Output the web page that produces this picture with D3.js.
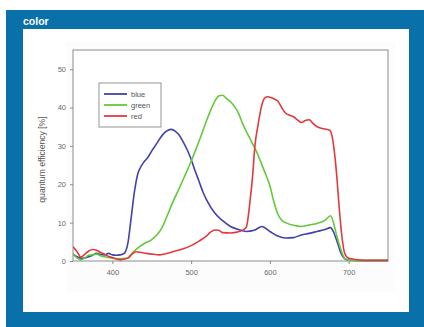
<!DOCTYPE html>
<html>
<head>
<meta charset="utf-8">
<script src="https://cdn.jsdelivr.net/npm/d3@7"></script>
<style>
html,body{margin:0;padding:0;background:#fff;}
svg{display:block;}
</style>
</head>
<body>
<svg id="chart" width="424" height="327"></svg>
<script>
const title = "color";
const yLabel = "quantum efficiency [%]";
const xTicks = [400, 500, 600, 700];
const yTicks = [0, 10, 20, 30, 40, 50];
const seriesNames = ["blue", "green", "red"];
const seriesColors = ["#4242ae", "#62c93a", "#e2393f"];

const blueWl = [350,355,360,365,370,375,380,385,390,395,400,405,410,415,420,424,428,432,436,440,445,450,455,460,465,470,475,480,485,490,495,500,505,510,515,520,530,540,550,560,570,580,590,600,610,620,630,640,650,660,670,677,681,685,690,695,700,720,750];
const blueQE = [1.8,1.1,0.7,0.8,1.1,1.5,2.0,1.7,1.6,2.0,1.6,1.5,1.6,2.0,5.0,11.5,18,22.5,24.5,25.8,27,28.7,30.2,31.8,33.2,34,34.3,33.8,32.8,31,29,26.5,23.5,20.8,18,15.8,12.5,10.5,9,8.2,7.7,8,9,7.7,6.5,6,6.1,6.8,7.2,7.7,8.2,8.7,7.5,5.3,2.2,0.6,0.2,0.1,0.1];

const greenWl = [350,355,360,365,370,375,380,385,390,395,400,410,420,425,430,435,440,450,460,465,470,475,480,485,490,495,500,505,510,515,520,525,530,535,540,545,550,555,560,565,570,575,580,585,590,595,600,605,610,615,620,630,640,650,660,670,677,681,685,689,695,700,720,750];
const greenQE = [1.8,0.8,0.3,0.8,1.5,1.6,1.8,1.4,1.1,0.9,0.7,0.6,0.8,2,3,3.8,4.5,5.6,7.7,9.5,12,14.5,16.8,19,21.3,23.6,26,28.5,31.2,34,36.8,39.4,41.6,43,43.2,42.3,41.5,40.3,38.6,36,33.8,31.8,29.8,27.6,25,22.4,19.6,15.5,12.3,10.6,10,9.3,9,9.4,9.8,10.6,11.8,9.8,6.5,3.7,0.7,0.2,0.1,0.1];

const redWl = [350,355,360,365,370,375,380,385,390,395,400,405,410,415,420,425,430,440,450,460,470,480,490,500,510,520,525,530,535,540,550,560,565,570,575,578,581,585,588,591,594,597,600,605,610,615,620,625,630,635,640,645,650,655,660,665,670,676,679,681,685,688,691,695,700,720,750];
const redQE = [3.7,2.5,1.0,1.8,2.6,3.0,2.8,2.2,1.8,1.2,0.9,0.5,0.3,0.5,0.8,1.8,2.4,2.1,1.8,1.6,2.0,2.6,3.2,4.0,5.2,6.6,7.6,8.1,8.0,7.4,7.3,7.6,8.0,8.8,16,22,30,35.5,39,41.5,42.6,42.8,42.7,42.3,41.7,40,38.5,38,37.6,36.8,36.1,36.6,36.8,35.8,35,34.6,34.4,34.1,32.5,30,22,14,7.3,2,0.7,0.2,0.2];

const series = [
  {name: seriesNames[0], color: seriesColors[0], wl: blueWl, qe: blueQE},
  {name: seriesNames[1], color: seriesColors[1], wl: greenWl, qe: greenQE},
  {name: seriesNames[2], color: seriesColors[2], wl: redWl, qe: redQE}
];

const svg = d3.select("#chart");
const W = 424, H = 327;

svg.append("rect").attr("x", 6).attr("y", 10).attr("width", W - 6).attr("height", H - 10).attr("fill", "#0a70a9");
svg.append("rect").attr("x", 23).attr("y", 29).attr("width", 386).attr("height", 283).attr("fill", "#ffffff");
svg.append("text").attr("x", 23).attr("y", 24.5).text(title)
  .attr("fill", "#ffffff").attr("font-family", "Liberation Sans, Arial, sans-serif")
  .attr("font-weight", "bold").attr("font-size", 10.5);

svg.append("rect").attr("x", 66).attr("y", 42).attr("width", 330).attr("height", 250).attr("fill", "#fcfcfc");

const m = {left: 73, top: 50, right: 388, bottom: 261};
const x = d3.scaleLinear().domain([350, 750]).range([m.left, m.right]);
const y = d3.scaleLinear().domain([0, 55]).range([m.bottom, m.top]);

svg.append("rect").attr("x", m.left).attr("y", m.top)
  .attr("width", m.right - m.left).attr("height", m.bottom - m.top)
  .attr("fill", "#ffffff").attr("stroke", "#8c8c8c").attr("stroke-width", 1);

const font = "Liberation Sans, Arial, sans-serif";

const xAxis = svg.append("g").attr("transform", `translate(0,${m.bottom})`)
  .call(d3.axisBottom(x).tickValues(xTicks).tickSize(3).tickPadding(6));
const yAxis = svg.append("g").attr("transform", `translate(${m.left},0)`)
  .call(d3.axisLeft(y).tickValues(yTicks).tickSize(3).tickPadding(4));
[xAxis, yAxis].forEach(g => {
  g.select(".domain").remove();
  g.selectAll(".tick line").attr("stroke", "#8c8c8c");
  g.selectAll(".tick text").attr("fill", "#6a6a6a").attr("font-family", font).attr("font-size", 7.5);
});

svg.append("text")
  .attr("transform", `translate(45,${(m.top + m.bottom) / 2 + 4}) rotate(-90)`)
  .attr("text-anchor", "middle").attr("fill", "#555")
  .attr("font-family", font).attr("font-size", 8.6).text(yLabel);

const line = d3.line().curve(d3.curveMonotoneX);
const plot = svg.append("g");
plot.append("clipPath").attr("id", "clip").append("rect")
  .attr("x", m.left).attr("y", m.top).attr("width", m.right - m.left).attr("height", m.bottom - m.top + 1);
series.forEach(s => {
  const pts = s.wl.map((w, i) => [x(w), y(s.qe[i])]);
  plot.append("path").attr("d", line(pts)).attr("fill", "none")
    .attr("stroke", s.color).attr("stroke-width", 1.6).attr("clip-path", "url(#clip)");
});

const lg = svg.append("g");
lg.append("rect").attr("x", 99).attr("y", 83).attr("width", 62).attr("height", 44)
  .attr("fill", "#fff").attr("stroke", "#7a7a7a").attr("stroke-width", 0.8);
series.forEach((s, i) => {
  const yy = 94 + i * 11;
  lg.append("line").attr("x1", 104).attr("x2", 127).attr("y1", yy).attr("y2", yy)
    .attr("stroke", s.color).attr("stroke-width", 1.8);
  lg.append("text").attr("x", 131).attr("y", yy + 2.5).text(s.name)
    .attr("fill", "#555").attr("font-family", font).attr("font-size", 7.5);
});
</script>
</body>
</html>
